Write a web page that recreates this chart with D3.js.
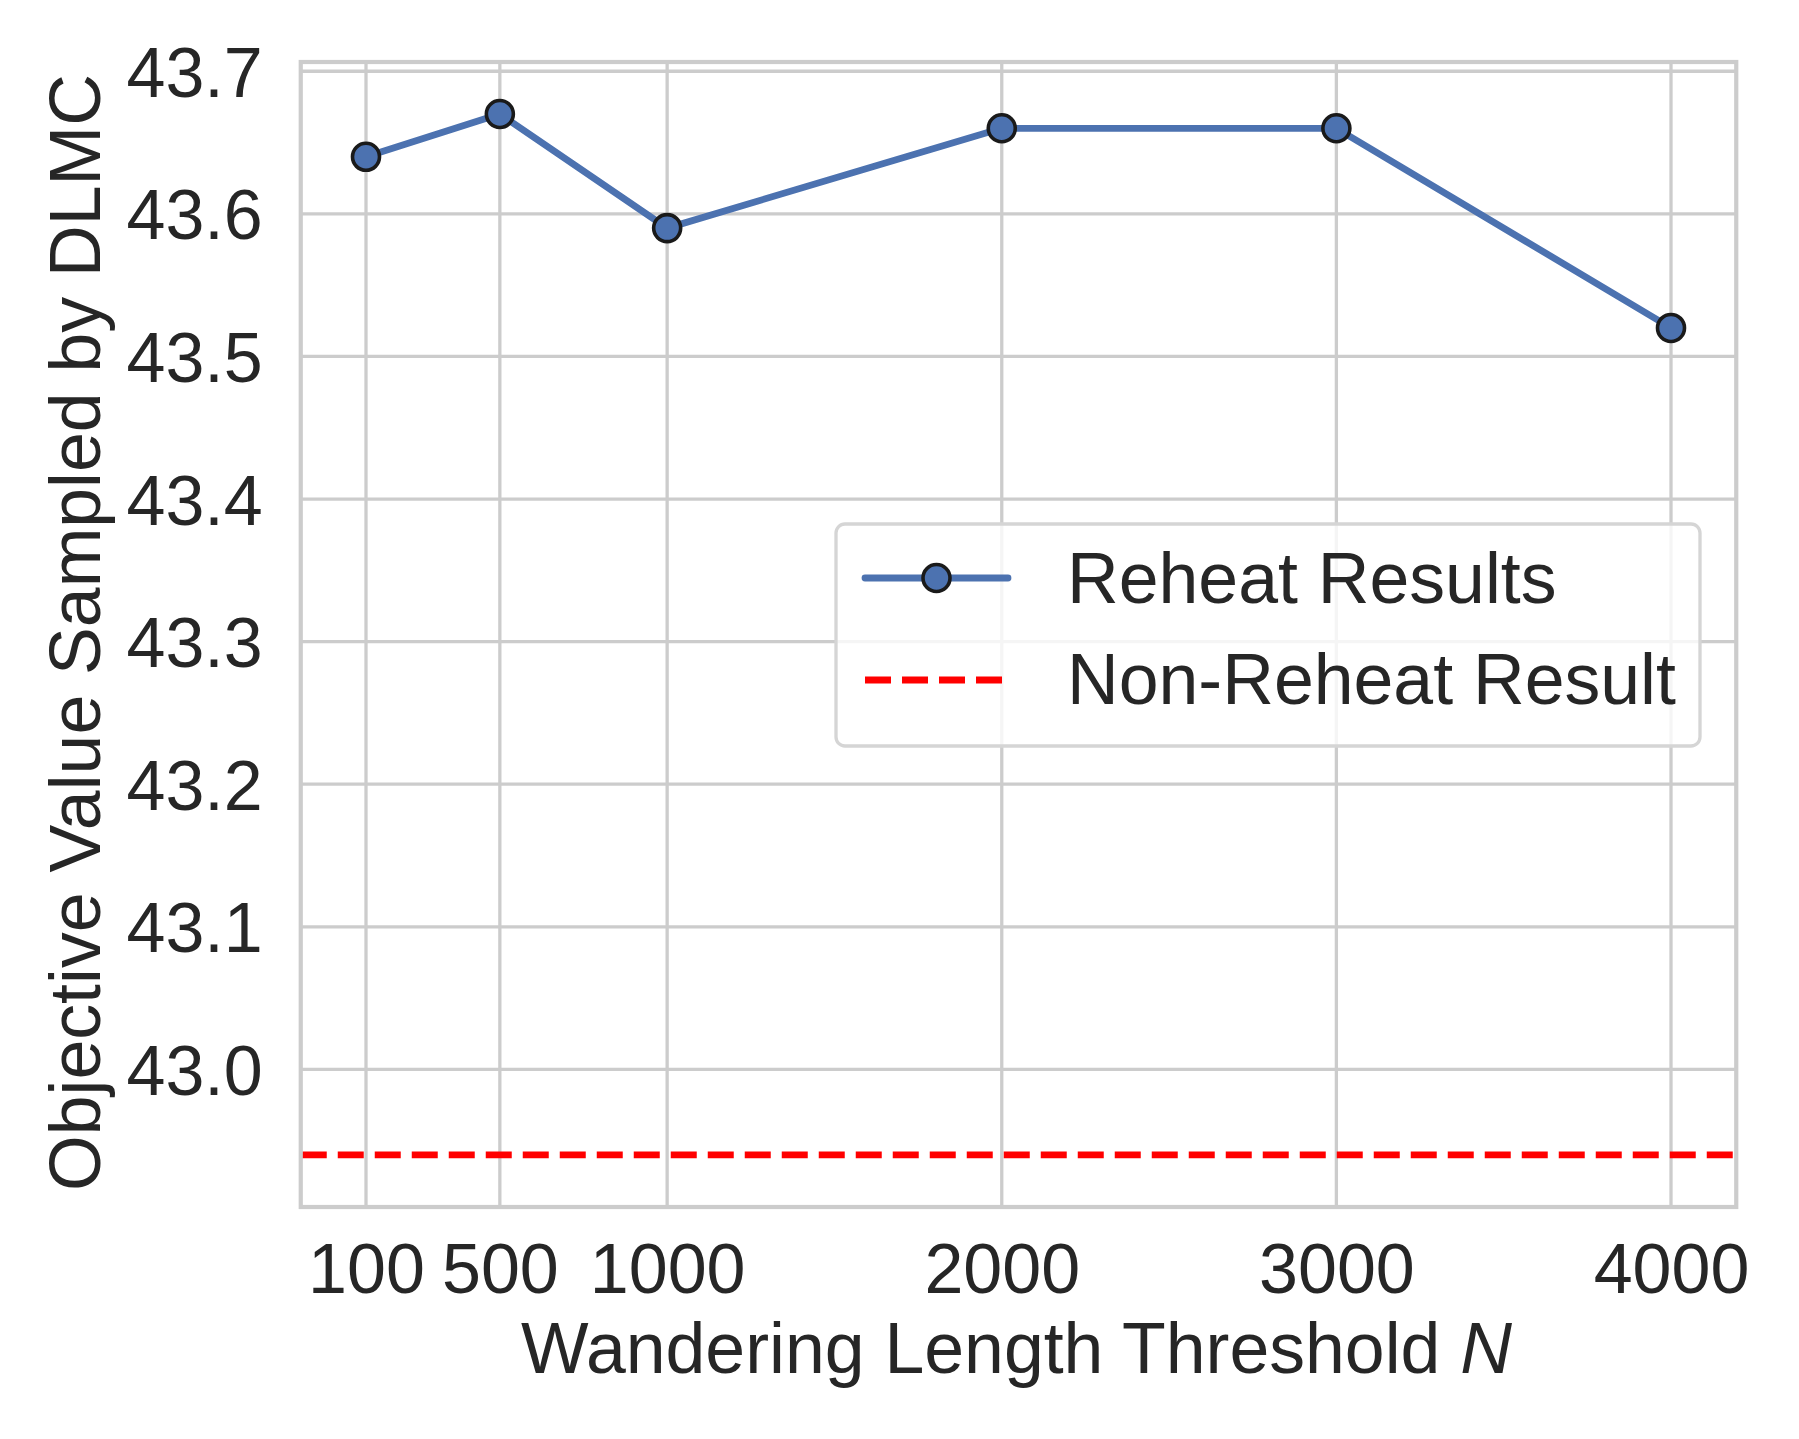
<!DOCTYPE html>
<html>
<head>
<meta charset="utf-8">
<script src="https://cdn.jsdelivr.net/npm/d3@7"></script>
<style>
  html, body { margin: 0; padding: 0; background: #ffffff; }
  svg { display: block; font-family: "Liberation Sans", Arial, sans-serif; }
</style>
</head>
<body>
<svg id="chart" width="1799" height="1439"></svg>
<script>
// ---- data ----
const thresholds = [100, 500, 1000, 2000, 3000, 4000];
const reheatValues = [43.64, 43.67, 43.59, 43.66, 43.66, 43.52];
const nonReheatValue = 42.94;
const xTickValues = [100, 500, 1000, 2000, 3000, 4000];
const yTickValues = [43.0, 43.1, 43.2, 43.3, 43.4, 43.5, 43.6, 43.7];
const seriesNames = ["Reheat Results", "Non-Reheat Result"];

(function () {
// ---- layout ----
const W = 1799, H = 1439;
const pL = 300.75, pR = 1736.25, pT = 62, pB = 1207;
const textColor = "#262626";
const gridColor = "#cccccc";
const fs = 70;
const fsLabel = 71.6;

const svg = d3.select("#chart");
svg.append("rect").attr("width", W).attr("height", H).attr("fill", "#fff");

// matplotlib-like autoscale with 5% margins
const xMin = d3.min(thresholds), xMax = d3.max(thresholds);
const xPad = (xMax - xMin) * 0.05;
const allY = reheatValues.concat([nonReheatValue]);
const yMin = d3.min(allY), yMax = d3.max(allY);
const yPad = (yMax - yMin) * 0.05;

const x = d3.scaleLinear().domain([xMin - xPad, xMax + xPad]).range([pL, pR]);
const y = d3.scaleLinear().domain([yMin - yPad, yMax + yPad]).range([pB, pT]);

// clip
svg.append("defs").append("clipPath").attr("id", "clip")
  .append("rect").attr("x", pL).attr("y", pT).attr("width", pR - pL).attr("height", pB - pT);

// grid
const grid = svg.append("g");
grid.selectAll("line.v").data(xTickValues).enter().append("line")
  .attr("x1", d => x(d)).attr("x2", d => x(d)).attr("y1", pT).attr("y2", pB)
  .attr("stroke", gridColor).attr("stroke-width", 3.3);
grid.selectAll("line.h").data(yTickValues).enter().append("line")
  .attr("x1", pL).attr("x2", pR).attr("y1", d => y(d)).attr("y2", d => y(d))
  .attr("stroke", gridColor).attr("stroke-width", 3.3);

// axes (tick labels via d3 axes, no tick marks)
const xAxis = d3.axisBottom(x).tickValues(xTickValues).tickFormat(d3.format("d")).tickSize(0).tickPadding(0);
const gx = svg.append("g").attr("transform", `translate(0,${pB})`).call(xAxis);
gx.select(".domain").remove();
gx.selectAll("text").attr("font-size", fs).attr("fill", textColor)
  .attr("font-family", "Liberation Sans, Arial, sans-serif")
  .attr("dy", null).attr("y", 86);

const yAxis = d3.axisLeft(y).tickValues(yTickValues).tickFormat(d3.format(".1f")).tickSize(0).tickPadding(0);
const gy = svg.append("g").attr("transform", `translate(${pL},0)`).call(yAxis);
gy.select(".domain").remove();
gy.selectAll("text").attr("font-size", fs).attr("fill", textColor)
  .attr("font-family", "Liberation Sans, Arial, sans-serif")
  .attr("x", -38).attr("dy", null).attr("y", 25).attr("text-anchor", "end");

// plot area
const plot = svg.append("g").attr("clip-path", "url(#clip)");

// non-reheat dashed line
plot.append("line")
  .attr("x1", pL).attr("x2", pR)
  .attr("y1", y(nonReheatValue)).attr("y2", y(nonReheatValue))
  .attr("stroke", "#ff0000").attr("stroke-width", 6.8)
  .attr("stroke-dasharray", "26,11");

// reheat line
const pts = thresholds.map((t, i) => [t, reheatValues[i]]);
plot.append("path")
  .attr("d", d3.line().x(d => x(d[0])).y(d => y(d[1]))(pts))
  .attr("fill", "none").attr("stroke", "#4c72b0").attr("stroke-width", 6.8)
  .attr("stroke-linejoin", "round").attr("stroke-linecap", "round");
plot.selectAll("circle.pt").data(pts).enter().append("circle")
  .attr("cx", d => x(d[0])).attr("cy", d => y(d[1])).attr("r", 13.5)
  .attr("fill", "#4c72b0").attr("stroke", "#1a1a1a").attr("stroke-width", 3.6);

// spines
svg.append("rect").attr("x", pL).attr("y", pT).attr("width", pR - pL).attr("height", pB - pT)
  .attr("fill", "none").attr("stroke", gridColor).attr("stroke-width", 4.2);

// axis labels
const xl = svg.append("text").attr("x", (pL + pR) / 2 - 2).attr("y", 1373)
  .attr("text-anchor", "middle").attr("font-size", fsLabel).attr("fill", textColor);
xl.append("tspan").text("Wandering Length Threshold ");
xl.append("tspan").attr("font-style", "italic").text("N");

svg.append("text")
  .attr("transform", `translate(100,${(pT + pB) / 2 - 2}) rotate(-90)`)
  .attr("text-anchor", "middle").attr("font-size", fsLabel).attr("fill", textColor)
  .text("Objective Value Sampled by DLMC");

// legend
const lg = svg.append("g");
lg.append("rect").attr("x", 836).attr("y", 524).attr("width", 864).attr("height", 222)
  .attr("rx", 9).attr("ry", 9)
  .attr("fill", "#ffffff").attr("fill-opacity", 0.8)
  .attr("stroke", "#d5d5d5").attr("stroke-width", 3.3);
const legendRows = [
  { name: seriesNames[0], ly: 578, ty: 603 },
  { name: seriesNames[1], ly: 680, ty: 704 }
];
lg.append("line").attr("x1", 865).attr("x2", 1008).attr("y1", legendRows[0].ly).attr("y2", legendRows[0].ly)
  .attr("stroke", "#4c72b0").attr("stroke-width", 6.8).attr("stroke-linecap", "round");
lg.append("circle").attr("cx", 936.5).attr("cy", legendRows[0].ly).attr("r", 13.5)
  .attr("fill", "#4c72b0").attr("stroke", "#1a1a1a").attr("stroke-width", 3.6);
lg.append("line").attr("x1", 865).attr("x2", 1005).attr("y1", legendRows[1].ly).attr("y2", legendRows[1].ly)
  .attr("stroke", "#ff0000").attr("stroke-width", 6.8).attr("stroke-dasharray", "26,11");
lg.selectAll("text.lt").data(legendRows).enter().append("text")
  .attr("x", 1067).attr("y", d => d.ty).attr("font-size", fsLabel).attr("fill", textColor)
  .text(d => d.name);
})();
</script>
</body>
</html>
